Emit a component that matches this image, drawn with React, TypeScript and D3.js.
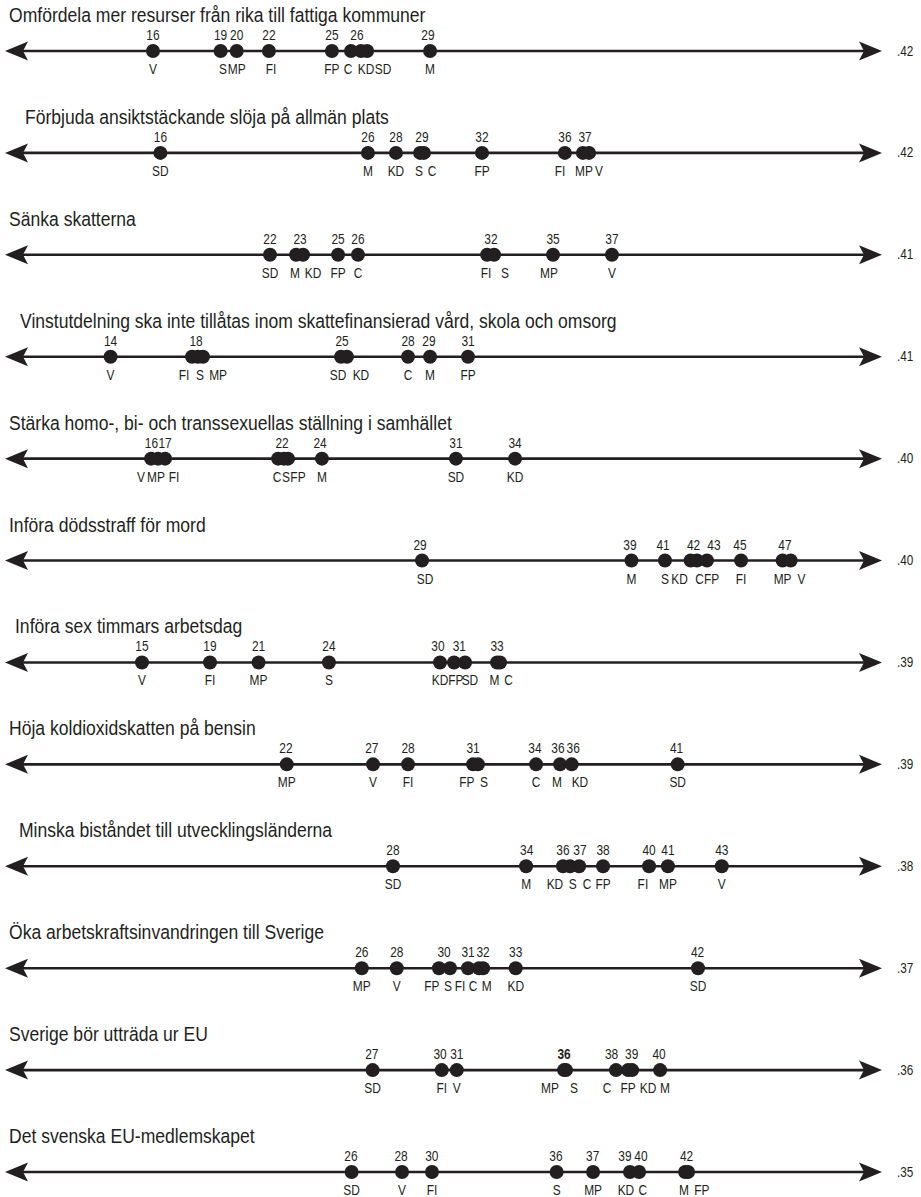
import React from 'react';
import * as d3 from 'd3';

// statements, one per row
const titles = [
  'Omfördela mer resurser från rika till fattiga kommuner',
  'Förbjuda ansiktstäckande slöja på allmän plats',
  'Sänka skatterna',
  'Vinstutdelning ska inte tillåtas inom skattefinansierad vård, skola och omsorg',
  'Stärka homo-, bi- och transsexuellas ställning i samhället',
  'Införa dödsstraff för mord',
  'Införa sex timmars arbetsdag',
  'Höja koldioxidskatten på bensin',
  'Minska biståndet till utvecklingsländerna',
  'Öka arbetskraftsinvandringen till Sverige',
  'Sverige bör utträda ur EU',
  'Det svenska EU-medlemskapet',
];

const coefficients = ['.42', '.42', '.41', '.41', '.40', '.40', '.39', '.39', '.38', '.37', '.36', '.35'];

// [party, position, where the party name sits if nudged]
type Dot = [string, number, number?];
// [printed value, where it is printed, bold]
type Num = [string, number, boolean?];

const omfordelaDots: Dot[] = [['V', 16.32], ['S', 19.51, 19.62], ['MP', 20.27], ['FI', 21.79, 21.89], ['FP', 24.76], ['C', 25.66, 25.52], ['KD', 26.13, 26.37], ['SD', 26.42, 27.17], ['M', 29.39]];
const omfordelaNums: Num[] = [['16', 16.32], ['19', 19.51], ['20', 20.27], ['22', 21.79], ['25', 24.76], ['26', 25.94], ['29', 29.29]];

const slojaDots: Dot[] = [['SD', 16.67], ['M', 26.46], ['KD', 27.78], ['S', 28.92, 28.87], ['C', 29.1, 29.48], ['FP', 31.84], ['FI', 35.75, 35.52], ['MP', 36.6, 36.65], ['V', 36.89, 37.36]];
const slojaNums: Num[] = [['16', 16.67], ['26', 26.46], ['28', 27.78], ['29', 29.01], ['32', 31.84], ['36', 35.75], ['37', 36.7]];

const skatterDots: Dot[] = [['SD', 21.84], ['M', 23.07, 23.02], ['KD', 23.4, 23.87], ['FP', 25.05], ['C', 25.99], ['FI', 32.08, 32.03], ['S', 32.41, 32.92], ['MP', 35.19, 35.0], ['V', 37.97]];
const skatterNums: Num[] = [['22', 21.84], ['23', 23.26], ['25', 25.05], ['26', 25.99], ['32', 32.26], ['35', 35.19], ['37', 37.97]];

const vinstDots: Dot[] = [['V', 14.32], ['FI', 18.16, 17.78], ['S', 18.44, 18.54], ['MP', 18.68, 19.39], ['SD', 25.19, 25.05], ['KD', 25.47, 26.13], ['C', 28.35], ['M', 29.39], ['FP', 31.18]];
const vinstNums: Num[] = [['14', 14.32], ['18', 18.35], ['25', 25.24], ['28', 28.35], ['29', 29.34], ['31', 31.18]];

const hbtDots: Dot[] = [['V', 16.23, 15.75], ['MP', 16.56, 16.46], ['FI', 16.89, 17.31], ['C', 22.22, 22.17], ['S', 22.5, 22.59], ['FP', 22.69, 23.16], ['M', 24.29], ['SD', 30.61], ['KD', 33.4]];
const hbtNums: Num[] = [['16', 16.25], ['17', 16.89], ['22', 22.41], ['24', 24.2], ['31', 30.61], ['34', 33.4]];

const dodsstraffDots: Dot[] = [['SD', 29.01, 29.15], ['M', 38.89], ['S', 40.47], ['KD', 41.68, 41.16], ['C', 41.98, 42.1], ['FP', 42.45, 42.67], ['FI', 44.06], ['MP', 46.02], ['V', 46.4, 46.91]];
const dodsstraffNums: Num[] = [['29', 28.92], ['39', 38.82], ['41', 40.38], ['42', 41.82], ['43', 42.78], ['45', 44.01], ['47', 46.13]];

const sextimmarDots: Dot[] = [['V', 15.8], ['FI', 19.01], ['MP', 21.3], ['S', 24.62], ['KD', 29.86], ['FP', 30.52, 30.61], ['SD', 31.04, 31.27], ['M', 32.55, 32.43], ['C', 32.69, 33.09]];
const sextimmarNums: Num[] = [['15', 15.8], ['19', 19.01], ['21', 21.3], ['24', 24.62], ['30', 29.76], ['31', 30.77], ['33', 32.55]];

const koldioxidDots: Dot[] = [['MP', 22.63], ['V', 26.7], ['FI', 28.35], ['FP', 31.42, 31.12], ['S', 31.65, 31.93], ['C', 34.39], ['M', 35.52, 35.38], ['KD', 36.07, 36.46], ['SD', 41.07]];
const koldioxidNums: Num[] = [['22', 22.59], ['27', 26.64], ['28', 28.35], ['31', 31.42], ['34', 34.34], ['36', 35.42], ['36', 36.14], ['41', 41.02]];

const bistandDots: Dot[] = [['SD', 27.64], ['M', 33.92], ['KD', 35.66, 35.28], ['S', 35.99, 36.12], ['C', 36.42, 36.79], ['FP', 37.55], ['FI', 39.72, 39.43], ['MP', 40.61], ['V', 43.15]];
const bistandNums: Num[] = [['28', 27.64], ['34', 33.95], ['36', 35.66], ['37', 36.46], ['38', 37.55], ['40', 39.72], ['41', 40.61], ['43', 43.15]];

const arbetskraftDots: Dot[] = [['MP', 26.17], ['V', 27.82], ['FP', 29.81, 29.47], ['S', 30.33, 30.24], ['FI', 31.18, 30.8], ['C', 31.7, 31.42], ['M', 31.89, 32.06], ['KD', 33.43], ['SD', 42.03]];
const arbetskraftNums: Num[] = [['26', 26.17], ['28', 27.82], ['30', 30.05], ['31', 31.18], ['32', 31.89], ['33', 33.43], ['42', 42.01]];

const uttradaDots: Dot[] = [['SD', 26.68], ['FI', 29.94], ['V', 30.65], ['MP', 35.71, 35.05], ['S', 35.8, 36.18], ['C', 38.16, 37.74], ['FP', 38.73], ['KD', 38.92, 39.67], ['M', 40.24, 40.47]];
const uttradaNums: Num[] = [['27', 26.64], ['30', 29.86], ['31', 30.65], ['36', 35.71, true], ['38', 37.95], ['39', 38.9], ['40', 40.19]];

const euDots: Dot[] = [['SD', 25.69], ['V', 28.07], ['FI', 29.48], ['S', 35.36], ['MP', 37.08], ['KD', 38.82, 38.63], ['C', 39.25, 39.43], ['M', 41.42, 41.37], ['FP', 41.56, 42.21]];
const euNums: Num[] = [['26', 25.66], ['28', 28.02], ['30', 29.47], ['36', 35.33], ['37', 37.06], ['39', 38.58], ['40', 39.34], ['42', 41.49]];

const rowDots = [omfordelaDots, slojaDots, skatterDots, vinstDots, hbtDots, dodsstraffDots, sextimmarDots, koldioxidDots, bistandDots, arbetskraftDots, uttradaDots, euDots];
const rowNums = [omfordelaNums, slojaNums, skatterNums, vinstNums, hbtNums, dodsstraffNums, sextimmarNums, koldioxidNums, bistandNums, arbetskraftNums, uttradaNums, euNums];

// a few titles sit a little further in
const titleIndent = [9, 25, 9, 20, 9, 9, 15, 9, 19, 9, 9, 9];

const W = 921;
const H = 1197;
const INK = '#231f20';
const FONT = "'Liberation Sans', Arial, Helvetica, sans-serif";

// text squeezed horizontally around its anchor point (the original type is a condensed grotesque)
function Narrow({ x, y, size, squeeze = 0.84, anchor = 'start', bold = false, children }: {
  x: number; y: number; size: number; squeeze?: number; anchor?: string; bold?: boolean; children: React.ReactNode;
}) {
  return (
    <g transform={`translate(${x},${y}) scale(${squeeze},1)`}>
      <text fontSize={size} textAnchor={anchor} fill={INK} fontWeight={bold ? 'bold' : 'normal'}>{children}</text>
    </g>
  );
}

export default function App() {
  const x = d3.scaleLinear().domain([10, 50]).range([19, 867]);
  const y = d3.scaleLinear().domain([0, 11]).range([51, 1172]);

  const lineStart = 10;
  const lineEnd = 872;
  const tip = 882;

  return (
    <div>
      <style>{'body{margin:0;background:#fff}'}</style>
      <svg width={W} height={H} style={{ display: 'block', fontFamily: FONT }}>
        <rect width={W} height={H} fill="#fff" />
        {titles.map((t, i) => {
          const cy = y(i);
          return (
            <g key={i}>
              <Narrow x={titleIndent[i]} y={cy - 29} size={19.5} squeeze={0.9}>{t}</Narrow>
              <line x1={lineStart} x2={lineEnd} y1={cy} y2={cy} stroke={INK} strokeWidth={2.6} />
              <path d={`M5,${cy} L28,${cy - 9.5} L23,${cy} L28,${cy + 9.5} Z`} fill={INK} />
              <path d={`M${tip},${cy} L${tip - 23},${cy - 9.5} L${tip - 18},${cy} L${tip - 23},${cy + 9.5} Z`} fill={INK} />
              {rowDots[i].map((d, j) => (
                <circle key={j} cx={x(d[1])} cy={cy} r={7} fill={INK} />
              ))}
              {rowNums[i].map((n, j) => (
                <Narrow key={j} x={x(n[1])} y={cy - 11} size={14.2} anchor="middle" bold={!!n[2]}>{n[0]}</Narrow>
              ))}
              {rowDots[i].map((d, j) => (
                <Narrow key={j} x={x(d[2] ?? d[1])} y={cy + 23} size={14.2} anchor="middle">{d[0]}</Narrow>
              ))}
              <Narrow x={897} y={cy + 4.5} size={14}>{coefficients[i]}</Narrow>
            </g>
          );
        })}
      </svg>
    </div>
  );
}
